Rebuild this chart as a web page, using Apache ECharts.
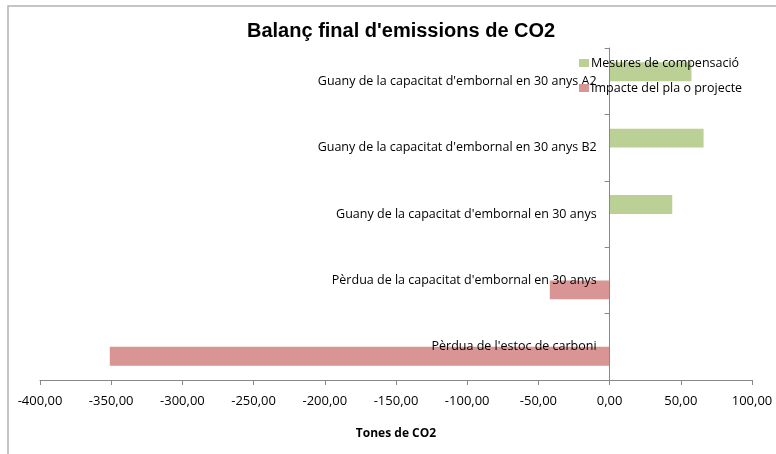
<!DOCTYPE html>
<html>
<head>
<meta charset="utf-8">
<script src="https://cdn.jsdelivr.net/npm/echarts@6/dist/echarts.min.js"></script>
<style>
  html, body { margin: 0; padding: 0; background: #fff; }
  #chart { width: 776px; height: 454px; }
</style>
</head>
<body>
<div id="chart"></div>
<script>
// categories bottom -> top
const categories = [
  "Pèrdua de l'estoc de carboni",
  "Pèrdua de la capacitat d'embornal en 30 anys",
  "Guany de la capacitat d'embornal en 30 anys",
  "Guany de la capacitat d'embornal en 30 anys B2",
  "Guany de la capacitat d'embornal en 30 anys A2"
];
const compensacio = [0, 0, 44, 66, 57.5];
const impacte = [-351, -42, 0, 0, 0];
const xTicks = [-400, -350, -300, -250, -200, -150, -100, -50, 0, 50, 100];

const chart = echarts.init(document.getElementById('chart'));
const font = 'Open Sans';

// y axis sits on x = 0: shift it from the left edge of the grid
const gridLeft = 40, gridRight = 24;
const plotW = 776 - gridLeft - gridRight;
const zeroShift = plotW * (0 - xTicks[0]) / (xTicks[xTicks.length - 1] - xTicks[0]);

chart.setOption({
  animation: false,
  title: {
    text: "Balanç final d'emissions de CO2",
    left: 242,
    top: 16,
    textStyle: { fontFamily: 'Liberation Sans', fontWeight: 'bold', fontSize: 20, color: '#000' }
  },
  graphic: [{
    type: 'rect',
    shape: { x: 8, y: 6, width: 800, height: 500 },
    style: { fill: 'none', stroke: '#b3b3b3', lineWidth: 1.5 },
    silent: true
  }],
  legend: {
    orient: 'vertical',
    left: 579,
    top: 55,
    padding: 0,
    z: 6,
    itemWidth: 10,
    itemHeight: 8,
    itemGap: 9,
    icon: 'rect',
    data: ['Mesures de compensació', 'Impacte del pla o projecte'],
    textStyle: { fontFamily: font, fontSize: 12.5, lineHeight: 16, color: '#000', padding: [0, 0, 0, -3] }
  },
  grid: { left: gridLeft, right: gridRight, top: 48, bottom: 74, outerBoundsMode: 'none', containLabel: false },
  xAxis: {
    type: 'value',
    min: xTicks[0],
    max: xTicks[xTicks.length - 1],
    interval: 50,
    name: 'Tones de CO2',
    nameLocation: 'middle',
    nameGap: 48,
    nameTextStyle: { fontFamily: font, fontWeight: 'bold', fontSize: 12, color: '#000' },
    axisLine: { show: true, onZero: false, lineStyle: { color: '#888', width: 1 } },
    axisTick: { show: true, length: 5, lineStyle: { color: '#888' } },
    axisLabel: {
      margin: 15,
      fontFamily: font, fontSize: 13, color: '#000',
      formatter: v => v.toFixed(2).replace('.', ',')
    },
    splitLine: { show: false }
  },
  yAxis: {
    type: 'category',
    data: categories,
    offset: -zeroShift,
    z: 5,
    axisLine: { show: true, onZero: false, lineStyle: { color: '#888', width: 1 } },
    axisTick: { show: true, length: 5, lineStyle: { color: '#888' } },
    axisLabel: { margin: 13, fontFamily: font, fontSize: 12.5, color: '#000' }
  },
  series: [
    {
      name: 'Mesures de compensació',
      type: 'bar',
      data: compensacio,
      itemStyle: { color: '#bbd095' },
      barGap: '0%',
      barCategoryGap: '43%'
    },
    {
      name: 'Impacte del pla o projecte',
      type: 'bar',
      data: impacte,
      itemStyle: { color: '#d99594' }
    }
  ]
});
</script>
</body>
</html>
